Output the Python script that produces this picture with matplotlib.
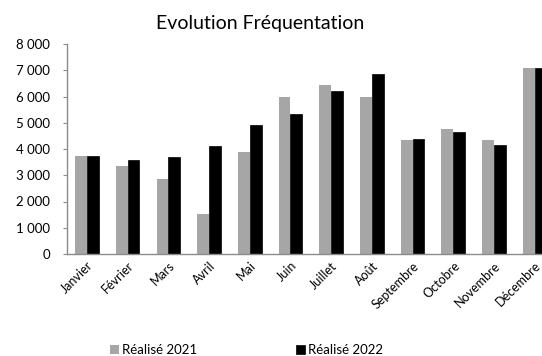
import matplotlib
matplotlib.use("Agg")
import matplotlib.pyplot as plt
import numpy as np
from matplotlib.ticker import FuncFormatter

months = ["Janvier", "Février", "Mars", "Avril", "Mai", "Juin", "Juillet",
          "Août", "Septembre", "Octobre", "Novembre", "Décembre"]
realise_2021 = [3750, 3350, 2870, 1540, 3870, 5980, 6440, 5980, 4330, 4750, 4330, 7090]
realise_2022 = [3750, 3580, 3700, 4100, 4920, 5330, 6220, 6860, 4400, 4630, 4170, 7100]
series_names = ["Réalisé 2021", "Réalisé 2022"]

plt.rcParams['font.family'] = ['Lato', 'DejaVu Sans']

fig = plt.figure(figsize=(5.42, 3.56), dpi=100)
left = 66.6 / 542
width = 12 * 40.7 / 542
bottom = (356 - 254) / 356
height = (254 - 44) / 356
ax = fig.add_axes([left, bottom, width, height])

x = np.arange(len(months))
w = 0.29
ax.bar(x - w / 2, realise_2021, width=w, color="#a6a6a6", label=series_names[0], zorder=2)
ax.bar(x + w / 2, realise_2022, width=w, color="#000000", edgecolor="#000000",
       linewidth=0.5, label=series_names[1], zorder=2)

ax.set_xlim(-0.5, len(months) - 0.5)
ax.set_ylim(0, 8000)
ax.set_yticks(np.arange(0, 8001, 1000))
ax.yaxis.set_major_formatter(FuncFormatter(lambda v, p: f"{int(v):,}".replace(",", " ")))
ax.set_xticks(x)
ax.set_xticklabels(months, rotation=45, ha="right", rotation_mode="anchor", fontsize=9)
ax.tick_params(axis="x", length=0, pad=4)
ax.tick_params(axis="y", length=3, color="#8c8c8c", labelsize=9.5, pad=9)

for s in ["top", "right"]:
    ax.spines[s].set_visible(False)
for s in ["left", "bottom"]:
    ax.spines[s].set_color("#8c8c8c")
    ax.spines[s].set_linewidth(1.0)

fig.text(260 / 542, 1 - 23 / 356, "Evolution Fréquentation", ha="center", va="center",
         fontsize=14)

leg = fig.legend(loc="center left", bbox_to_anchor=(110 / 542, 1 - 350 / 356), ncol=2,
                 frameon=False, fontsize=9.5, handlelength=0.7, handleheight=0.7,
                 handletextpad=0.2, columnspacing=7.5, borderaxespad=0, borderpad=0)

fig.savefig("out.png", dpi=100)
